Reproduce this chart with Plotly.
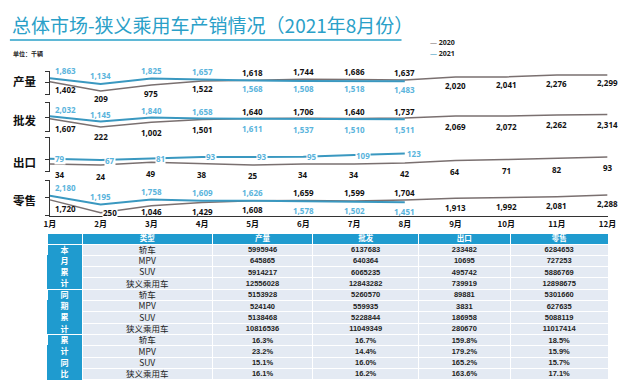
import plotly.graph_objects as go

W, H = 640, 384

# ---------------- data ----------------
months = ['1月', '2月', '3月', '4月', '5月', '6月', '7月', '8月', '9月', '10月', '11月', '12月']
row_names = ['产量', '批发', '出口', '零售']

prod_2020 = [1402, 209, 975, 1522, 1618, 1744, 1686, 1637, 2020, 2041, 2276, 2299]
prod_2021 = [1863, 1134, 1825, 1657, 1568, 1508, 1518, 1483]
whole_2020 = [1607, 222, 1002, 1501, 1640, 1706, 1640, 1737, 2069, 2072, 2262, 2314]
whole_2021 = [2032, 1145, 1840, 1658, 1611, 1537, 1510, 1511]
export_2020 = [34, 24, 49, 38, 25, 34, 34, 42, 64, 71, 82, 93]
export_2021 = [79, 67, 81, 93, 93, 95, 109, 123]
retail_2020 = [1720, 250, 1046, 1429, 1608, 1659, 1599, 1704, 1913, 1992, 2081, 2288]
retail_2021 = [2180, 1195, 1758, 1609, 1626, 1578, 1502, 1451]

table_header = ['', '类型', '产量', '批发', '出口', '零售']
group_chars = ['本', '月', '累', '计', '同', '期', '累', '计', '累', '计', '同', '比']
table_types = ['轿车', 'MPV', 'SUV', '狭义乘用车'] * 3
tbl_prod = ['5995946', '645865', '5914217', '12556028',
            '5153928', '524140', '5138468', '10816536',
            '16.3%', '23.2%', '15.1%', '16.1%']
tbl_whole = ['6137683', '640364', '6065235', '12843282',
             '5260570', '559935', '5228844', '11049349',
             '16.7%', '14.4%', '16.0%', '16.2%']
tbl_export = ['233482', '10695', '495742', '739919',
              '89881', '3831', '186958', '280670',
              '159.8%', '179.2%', '165.2%', '163.6%']
tbl_retail = ['6284653', '727253', '5886769', '12898675',
              '5301660', '627635', '5088119', '11017414',
              '18.5%', '15.9%', '15.7%', '17.1%']

# ---------------- styling ----------------
C2020 = '#7a7070'
C2021 = '#3a98c0'
C2021_TXT = '#5ab4dc'
TEAL = '#1f9bcf'
CELL = '#e4eaf3'
NUMFONT = 'Open Sans, Liberation Sans, Arial'
CJK = 'Noto Sans CJK SC'
CLEAR = 'rgba(0,0,0,0)'


def px(x):
    return x / W


def py(y):
    return 1 - y / H


panels = [
    dict(s20=prod_2020, s21=prod_2021, top=71, bot=95, ref_val=1637, ref_px=80, upx=130,
         pos20='bbbbaaaabbbb', pos21='aaaabbbb', label_y=81, tick_px=82, off_a=8, off_b=8),
    dict(s20=whole_2020, s21=whole_2021, top=102, bot=132, ref_val=1737, ref_px=118, upx=170,
         pos20='bbbbaaaabbbb', pos21='aaaabbbb', label_y=120, tick_px=117, off_a=7, off_b=10),
    dict(s20=export_2020, s21=export_2021, top=137, bot=172, ref_val=42, ref_px=163, upx=8.5,
         pos20='bbbbbbbbbbbb', pos21='mmmmmmmm', label_y=162, tick_px=159, off_a=8, off_b=11),
    dict(s20=retail_2020, s21=retail_2021, top=180, bot=216, ref_val=1704, ref_px=200, upx=115,
         pos20='bmcbbaaabbbb', pos21='aaaaabbb', label_y=200, tick_px=197, off_a=8, off_b=9),
]

fig = go.Figure()
annotations = []
layout_axes = {}

for k, p in enumerate(panels):
    yname = 'y' if k == 0 else f'y{k + 1}'
    axname = 'yaxis' if k == 0 else f'yaxis{k + 1}'
    lo = p['ref_val'] - (p['bot'] - p['ref_px']) * p['upx']
    hi = p['ref_val'] + (p['ref_px'] - p['top']) * p['upx']
    mid = p['ref_val'] - (p['tick_px'] - p['ref_px']) * p['upx']
    eps = (hi - lo) * 0.002
    layout_axes[axname] = dict(
        domain=[py(p['bot']), py(p['top'])], range=[lo, hi], anchor='x',
        showline=True, linecolor='#333333', linewidth=1,
        ticks='outside', ticklen=4, tickcolor='#333333', tickwidth=1,
        tickvals=[lo + eps, mid, hi - eps], showticklabels=False,
        showgrid=False, zeroline=False, fixedrange=True)

    fig.add_trace(go.Scatter(x=months[:len(p['s20'])], y=p['s20'], mode='lines',
                             line=dict(color=C2020, width=1.5), xaxis='x', yaxis=yname,
                             showlegend=False, hoverinfo='skip'))
    fig.add_trace(go.Scatter(x=months[:len(p['s21'])], y=p['s21'], mode='lines',
                             line=dict(color=C2021, width=2), xaxis='x', yaxis=yname,
                             showlegend=False, hoverinfo='skip'))

    for series, pos, col in ((p['s20'], p['pos20'], '#111111'), (p['s21'], p['pos21'], C2021_TXT)):
        for i, v in enumerate(series):
            c = pos[i]
            ys = {'a': p['off_a'], 'b': -p['off_b'], 'c': -6, 'm': 0}[c]
            if i == 0:
                xa, xs = 'left', 4
            else:
                xa, xs = 'center', (9 if c == 'm' else 0)
            annotations.append(dict(
                x=months[i], y=v, xref='x', yref=yname, text=f'<b>{v:,}</b>',
                showarrow=False, xanchor=xa, yanchor='middle', xshift=xs, yshift=ys,
                font=dict(size=8, color=col, family=NUMFONT),
                bgcolor='white' if c == 'm' else None, borderpad=0))

    annotations.append(dict(x=px(19), y=py(p['label_y']), xref='paper', yref='paper',
                            text=f'<b>{row_names[k]}</b>', showarrow=False,
                            xanchor='center', yanchor='middle',
                            font=dict(size=11.5, color='#111111', family=CJK)))

# title, unit, legend
annotations += [
    dict(x=px(4), y=py(24), xref='paper', yref='paper', xanchor='left', yanchor='middle',
         text='总体市场-狭义乘用车产销情况（2021年8月份）', showarrow=False,
         font=dict(size=19, color='#2aa0c8', family=CJK)),
    dict(x=px(5), y=py(53), xref='paper', yref='paper', xanchor='left', yanchor='middle',
         text='<b>单位：千辆</b>', showarrow=False, font=dict(size=6, color='#222', family=CJK)),
    dict(x=px(432), y=py(42), xref='paper', yref='paper', xanchor='left', yanchor='middle',
         text=f"<span style='color:{C2020}'>—</span> <b>2020</b>", showarrow=False,
         font=dict(size=7, color='#222', family=NUMFONT)),
    dict(x=px(432), y=py(53), xref='paper', yref='paper', xanchor='left', yanchor='middle',
         text=f"<span style='color:{C2021}'>—</span> <b>2021</b>", showarrow=False,
         font=dict(size=7, color='#222', family=NUMFONT)),
]

# ---- table: a fill/grid layer plus a text layer nudged up so text sits mid-row ----
TBL_TOP, HDR_H, ROW_H, TEXT_NUDGE = 233, 11, 11.3, 5.5
colwidths = [36, 133, 103, 108, 94, 100]
n_rows = len(group_chars)
line_col0 = [('white' if r % 4 == 0 else TEAL) for r in range(n_rows)]

fig.add_trace(go.Table(
    domain=dict(x=[px(42), px(617)], y=[py(384), py(TBL_TOP)]),
    columnwidth=colwidths,
    header=dict(values=[''] * len(table_header), fill_color=TEAL,
                line=dict(color='white', width=1), height=HDR_H),
    cells=dict(values=[[''] * n_rows for _ in table_header],
               fill_color=[TEAL, CELL, CELL, CELL, CELL, CELL],
               line=dict(color=[line_col0, 'white', 'white', 'white', 'white', 'white'], width=1),
               height=ROW_H),
    hoverinfo='skip',
))

fig.add_trace(go.Table(
    domain=dict(x=[px(42), px(617)], y=[py(384), py(TBL_TOP - TEXT_NUDGE)]),
    columnwidth=colwidths,
    header=dict(values=table_header, fill_color=CLEAR,
                line=dict(color=CLEAR, width=0), align='center', height=HDR_H,
                font=dict(size=7.5, color='white', family=CJK, weight='bold')),
    cells=dict(values=[group_chars, table_types, tbl_prod, tbl_whole, tbl_export, tbl_retail],
               fill_color=CLEAR, line=dict(color=CLEAR, width=0),
               align='center', height=ROW_H,
               font=dict(size=[8, 8.5, 7.5, 7.5, 7.5, 7.5],
                         color=['white', '#222222', '#222222', '#222222', '#222222', '#222222'],
                         family=[CJK, CJK, 'Liberation Sans', 'Liberation Sans',
                                 'Liberation Sans', 'Liberation Sans'],
                         weight=['bold', 'normal', 'bold', 'bold', 'bold', 'bold'])),
    hoverinfo='skip',
))

fig.update_layout(
    width=W, height=H, autosize=False,
    margin=dict(l=0, r=0, t=0, b=0, pad=0),
    paper_bgcolor='white', plot_bgcolor='rgba(0,0,0,0)',
    xaxis=dict(domain=[px(45), px(616)], type='category', categoryarray=months,
               categoryorder='array', range=[0, 11], anchor='y4',
               showline=True, linecolor='#333333', linewidth=1, ticks='',
               showgrid=False, zeroline=False, fixedrange=True,
               tickfont=dict(size=8, color='#111111', family=CJK, weight='bold')),
    annotations=annotations,
    shapes=[dict(type='line', xref='paper', yref='paper', x0=px(4), x1=px(405),
                 y0=py(40), y1=py(40), line=dict(color='#2aa0c8', width=1.5))],
    **layout_axes,
)

fig.write_html('out.html', config={'displayModeBar': False},
               post_script="document.body.style.margin='0px';document.body.style.overflow='hidden';")
